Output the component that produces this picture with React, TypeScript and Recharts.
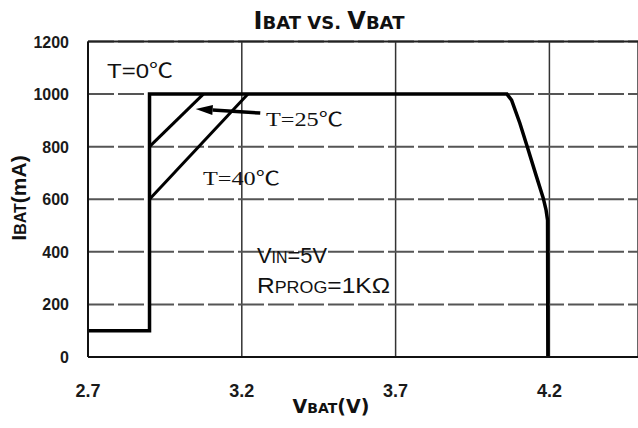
import React from 'react';
import { LineChart, Line, XAxis, YAxis, CartesianGrid, ReferenceLine } from 'recharts';

// battery voltage (V) ticks and current (mA) ticks
const vbatTicks = [2.7, 3.2, 3.7, 4.2];
const ibatTicks = [0, 200, 400, 600, 800, 1000, 1200];

// charge curves
const curveT0 = [
  { v: 2.7, i: 100 },
  { v: 2.9, i: 100 },
  { v: 2.9, i: 1000 },
  { v: 4.062, i: 1000 },
  { v: 4.077, i: 977 },
  { v: 4.104, i: 889 },
  { v: 4.128, i: 800 },
  { v: 4.158, i: 686 },
  { v: 4.18, i: 604 },
  { v: 4.189, i: 560 },
  { v: 4.194, i: 520 },
  { v: 4.195, i: 0 },
];
const curveT25 = [
  { v: 2.9, i: 800 },
  { v: 3.075, i: 1000 },
];
const curveT40 = [
  { v: 2.9, i: 600 },
  { v: 3.22, i: 1000 },
];
// arrow from the T=25 label to its curve
const arrowSeg = [
  { x: 3.26, y: 928 },
  { x: 3.05, y: 943 },
];

const ArrowShape = (props: any) => {
  const { x1, y1, x2, y2 } = props;
  const dx = x2 - x1;
  const dy = y2 - y1;
  const len = Math.sqrt(dx * dx + dy * dy) || 1;
  const ux = dx / len;
  const uy = dy / len;
  const hl = 17;
  const hw = 5;
  const bx = x2 - ux * hl;
  const by = y2 - uy * hl;
  const pts = `${x2},${y2} ${bx - uy * hw},${by + ux * hw} ${bx + uy * hw},${by - ux * hw}`;
  return (
    <g>
      <line x1={x1} y1={y1} x2={bx} y2={by} stroke="#000" strokeWidth={3.5} />
      <polygon points={pts} fill="#000" />
    </g>
  );
};

const XTick = ({ x, y, payload }: any) => (
  <text x={x} y={y + 14} textAnchor="middle" fontFamily="Liberation Sans, Arial, sans-serif" fontSize={18} fontWeight={700} fill="#1a1a1a">
    {Number(payload.value).toFixed(1)}
  </text>
);

const YTick = ({ x, y, payload }: any) => (
  <text x={x} y={y + 6} textAnchor="end" fontFamily="Liberation Sans, Arial, sans-serif" fontSize={16} fontWeight={700} fill="#1a1a1a">
    {payload.value}
  </text>
);

const cjk = 'Noto Sans CJK SC, sans-serif';

export default function App() {
  return (
    <div style={{ position: 'absolute', left: 0, top: 0, width: 638, height: 428, background: '#fff', overflow: 'hidden' }}>
      <LineChart width={638} height={428} margin={{ top: 41.5, right: 0, left: 0, bottom: 21 }}>
        <CartesianGrid horizontal={false} stroke="#333" strokeWidth={1.5} />
        <CartesianGrid vertical={false} stroke="#555" strokeWidth={2} strokeDasharray="26 4" />
        <ReferenceLine y={1200} stroke="#222" strokeWidth={2} />
        <XAxis
          type="number"
          dataKey="v"
          domain={[2.7, 4.488]}
          ticks={vbatTicks}
          allowDataOverflow
          height={50}
          tickLine={false}
          tickSize={0}
          tickMargin={26}
          axisLine={{ stroke: '#111', strokeWidth: 2 }}
          tick={<XTick />}
        />
        <YAxis
          type="number"
          dataKey="i"
          domain={[0, 1200]}
          ticks={ibatTicks}
          width={88}
          tickLine={false}
          tickSize={0}
          tickMargin={19}
          axisLine={{ stroke: '#111', strokeWidth: 2 }}
          tick={<YTick />}
        />
        <Line data={curveT40} dataKey="i" type="linear" stroke="#000" strokeWidth={3} dot={false} isAnimationActive={false} />
        <Line data={curveT25} dataKey="i" type="linear" stroke="#000" strokeWidth={3} dot={false} isAnimationActive={false} />
        <Line data={curveT0} dataKey="i" type="linear" stroke="#000" strokeWidth={3.5} dot={false} isAnimationActive={false} />
        <ReferenceLine segment={arrowSeg} shape={ArrowShape} />
      </LineChart>
      <svg width={638} height={428} style={{ position: 'absolute', left: 0, top: 0, pointerEvents: 'none' }}>
        <text x={329} y={29} textAnchor="middle" fontFamily="DejaVu Sans, sans-serif" fontWeight={700} fill="#111">
          <tspan fontSize={24}>I</tspan>
          <tspan fontSize={18}>BAT VS. </tspan>
          <tspan fontSize={24}>V</tspan>
          <tspan fontSize={18}>BAT</tspan>
        </text>
        <text x={331} y={413} textAnchor="middle" fontFamily="DejaVu Sans, sans-serif" fontWeight={700} fill="#111">
          <tspan fontSize={19}>V</tspan>
          <tspan fontSize={14}>BAT</tspan>
          <tspan fontSize={19}>(V)</tspan>
        </text>
        <text
          x={0}
          y={0}
          transform="translate(26,198) rotate(-90)"
          textAnchor="middle"
          fontFamily="Liberation Sans, Arial, sans-serif"
          fontWeight={700}
          fill="#111"
        >
          <tspan fontSize={21}>I</tspan>
          <tspan fontSize={16}>BAT</tspan>
          <tspan fontSize={21}>(mA)</tspan>
        </text>
        <text x={107} y={78} fontFamily="Liberation Sans, Arial, sans-serif" fontSize={20} fill="#111" textLength={66} lengthAdjust="spacingAndGlyphs">
          T=0<tspan fontFamily={cjk}>℃</tspan>
        </text>
        <text x={266} y={126} fontFamily="Liberation Serif, Times New Roman, serif" fontSize={19} fill="#111" textLength={77} lengthAdjust="spacingAndGlyphs">
          T=25<tspan fontFamily={cjk}>℃</tspan>
        </text>
        <text x={203} y={185} fontFamily="Liberation Serif, Times New Roman, serif" fontSize={19} fill="#111" textLength={77} lengthAdjust="spacingAndGlyphs">
          T=40<tspan fontFamily={cjk}>℃</tspan>
        </text>
        <text x={257} y={263} fontFamily="Liberation Sans, Arial, sans-serif" fill="#111" textLength={70} lengthAdjust="spacingAndGlyphs">
          <tspan fontSize={22}>V</tspan>
          <tspan fontSize={16}>IN</tspan>
          <tspan fontSize={22}>=5V</tspan>
        </text>
        <text x={257} y={293} fontFamily="Liberation Sans, Arial, sans-serif" fill="#111" textLength={133} lengthAdjust="spacingAndGlyphs">
          <tspan fontSize={22}>R</tspan>
          <tspan fontSize={16}>PROG</tspan>
          <tspan fontSize={22}>=1KΩ</tspan>
        </text>
      </svg>
    </div>
  );
}
